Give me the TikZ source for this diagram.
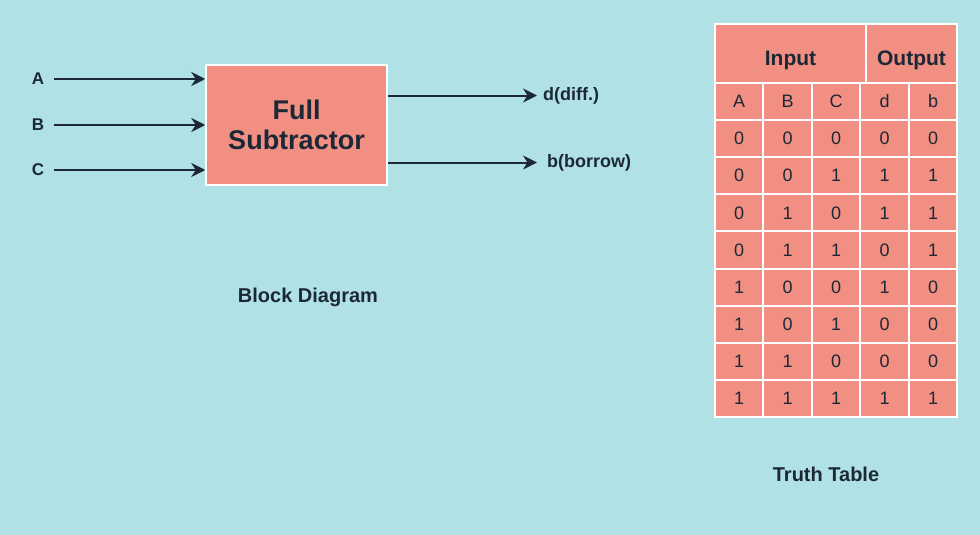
\documentclass[tikz,border=0pt]{standalone}
\usepackage{fontspec}
\setmainfont{Liberation Sans}
\usetikzlibrary{arrows.meta}
\definecolor{bg}{RGB}{176,226,229}
\definecolor{salmon}{RGB}{240,143,130}
\definecolor{ink}{RGB}{28,40,54}
\tikzset{
  block/.style={draw=white, line width=1.5pt, fill=salmon, minimum width=181pt, minimum height=120pt, align=center, text=ink, font=\bfseries\fontsize{27}{32}\selectfont},
  inlbl/.style={minimum width=32pt, inner sep=0pt, text=ink, font=\bfseries\fontsize{17}{20}\selectfont},
  outlbl/.style={anchor=west, inner xsep=6pt, inner ysep=0pt, text=ink, font=\bfseries\fontsize{18}{21}\selectfont},
  arr/.style={draw=ink, line width=2pt, -{Stealth[length=14pt,width=14pt,inset=4.5pt]}},
  cell/.style={draw=white, line width=2pt, fill=salmon, minimum width=48.5pt, minimum height=37.1pt, inner sep=0pt, text=ink, font=\fontsize{18}{21}\selectfont},
  hcell/.style={draw=white, line width=2pt, fill=salmon, minimum height=59pt, inner sep=0pt},
  hlbl/.style={text=ink, inner sep=0pt, font=\bfseries\fontsize{21}{25}\selectfont},
  title/.style={text=ink, font=\bfseries\fontsize{20}{24}\selectfont}
}
\begin{document}
\begin{tikzpicture}[x=1pt,y=-1pt]
\fill[bg] (0,0) rectangle (980,535);
\useasboundingbox (0,0) rectangle (980,535);

% Block diagram
\node[block] (fs) at (296.5,125) {Full\\[-2pt]Subtractor};
\node[inlbl] (A) at (38,79) {A};
\node[inlbl] (B) at (38,125) {B};
\node[inlbl] (C) at (38,170) {C};
\draw[arr] (A.east) -- (fs.west |- A.east);
\draw[arr] (B.east) -- (fs.west |- B.east);
\draw[arr] (C.east) -- (fs.west |- C.east);
\node[outlbl] (d) at (537,95.5) {d(diff.)};
\node[outlbl] (b) at (541,162.5) {b(borrow)};
\draw[arr] (fs.east |- d.west) -- (d.west);
\draw[arr, shorten >=4pt] (fs.east |- b.west) -- (b.west);
\node[title] (bdt) at (308,297) {Block Diagram};

% Truth table
\node[hcell, minimum width=151pt] (hin) at (790.5,53.5) {};
\node[hcell, minimum width=91pt] (hout) at (911.5,53.5) {};
\node[hlbl] (tin) at ([yshift=-7pt]hin.center) {Input};
\node[hlbl] (tout) at ([yshift=-7pt]hout.center) {Output};

\foreach \va/\vb/\vc/\vd/\ve [count=\k from 0] in {
  A/B/C/d/b, 0/0/0/0/0, 0/0/1/1/1, 0/1/0/1/1, 0/1/1/0/1,
  1/0/0/1/0, 1/0/1/0/0, 1/1/0/0/0, 1/1/1/1/1}{
  \pgfmathsetmacro{\yy}{83+37.1*\k+18.55}
  \node[cell] (c\k-1) at (739,\yy) {\va};
  \node[cell] (c\k-2) at (787.5,\yy) {\vb};
  \node[cell] (c\k-3) at (836,\yy) {\vc};
  \node[cell] (c\k-4) at (884.5,\yy) {\vd};
  \node[cell] (c\k-5) at (933,\yy) {\ve};
}
\node[title] (ttt) at (826,474) {Truth Table};
\end{tikzpicture}
\end{document}
